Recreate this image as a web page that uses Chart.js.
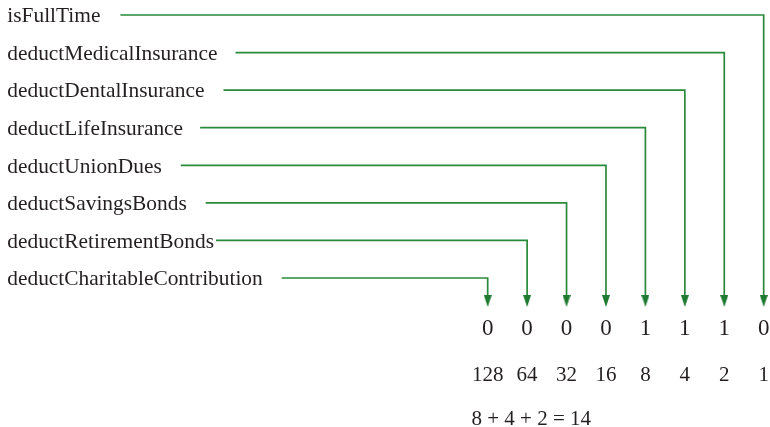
<!DOCTYPE html>
<html>
<head>
<meta charset="utf-8">
<script src="https://cdn.jsdelivr.net/npm/chart.js@4/dist/chart.umd.min.js"></script>
<style>
  html, body { margin: 0; padding: 0; background: #ffffff; }
  #wrap { width: 770px; height: 427px; }
</style>
</head>
<body>
<div id="wrap"><canvas id="c" width="770" height="427"></canvas></div>
<script>
// ---- DATA ----
const flagNames = [
  "isFullTime",
  "deductMedicalInsurance",
  "deductDentalInsurance",
  "deductLifeInsurance",
  "deductUnionDues",
  "deductSavingsBonds",
  "deductRetirementBonds",
  "deductCharitableContribution"
];
const bitValues = [0, 0, 0, 0, 1, 1, 1, 0];          // left (128) to right (1)
const placeWeights = [128, 64, 32, 16, 8, 4, 2, 1];

// ---- LAYOUT (scale units: x = bit column, y = row) ----
const W = 770, H = 427;
const X_MIN = -12.369, X_MAX = 7.160;
const Y_MIN = -0.399, Y_MAX = 10.966;
const LABEL_X = -12.184;
const ARROW_ROW = 7.612;
const BIT_ROW = 8.517;
const WEIGHT_ROW = 9.734;
const EQ_ROW = 10.913;
const EQ_X = -0.41;
const labelGaps = [20, 18, 19, 17, 19, 19, 2, 19];
const LABEL_FONT = '21.4px "Liberation Serif", "Times New Roman", serif';
const BIT_FONT = '23px "Liberation Serif", "Times New Roman", serif';
const WEIGHT_FONT = '21px "Liberation Serif", "Times New Roman", serif';
const TEXT_COLOR = '#231f20';
const LINE_COLOR = '#2a8a3b';
const ARROW_COLOR = '#1d7a30';

// arrowhead image
const arrow = document.createElement('canvas');
arrow.width = 8; arrow.height = 12;
(function () {
  const a = arrow.getContext('2d');
  a.fillStyle = ARROW_COLOR;
  a.beginPath();
  a.moveTo(0, 0); a.lineTo(8, 0); a.lineTo(4, 12); a.closePath();
  a.fill();
})();

// measure label widths to find where each connector begins
const mctx = document.createElement('canvas').getContext('2d');
mctx.font = LABEL_FONT;
const pxPerUnitX = W / (X_MAX - X_MIN);
const datasets = flagNames.map((name, i) => {
  const col = flagNames.length - 1 - i;             // isFullTime -> rightmost bit
  const startX = LABEL_X + (mctx.measureText(name).width + labelGaps[i]) / pxPerUnitX;
  return {
    type: 'line',
    data: [
      { x: startX, y: i },
      { x: col, y: i },
      { x: col, y: ARROW_ROW }
    ],
    borderColor: LINE_COLOR,
    borderWidth: 1.7,
    fill: false,
    tension: 0,
    clip: false,
    pointStyle: arrow,
    pointRadius: c => (c.dataIndex === 2 ? 5 : 0),
    pointHoverRadius: c => (c.dataIndex === 2 ? 5 : 0)
  };
});

const textPlugin = {
  id: 'texts',
  afterDatasetsDraw(chart) {
    const { ctx, scales: { x, y } } = chart;
    ctx.save();
    ctx.fillStyle = TEXT_COLOR;
    ctx.textBaseline = 'alphabetic';
    // flag labels
    ctx.font = LABEL_FONT;
    ctx.textAlign = 'left';
    flagNames.forEach((n, i) => {
      ctx.fillText(n, x.getPixelForValue(LABEL_X), y.getPixelForValue(i) + 7.3);
    });
    // bits
    ctx.font = BIT_FONT;
    ctx.textAlign = 'center';
    bitValues.forEach((b, j) => {
      ctx.fillText(String(b), x.getPixelForValue(j), y.getPixelForValue(BIT_ROW));
    });
    // weights
    ctx.font = WEIGHT_FONT;
    placeWeights.forEach((w, j) => {
      ctx.fillText(String(w), x.getPixelForValue(j), y.getPixelForValue(WEIGHT_ROW));
    });
    // equation
    const terms = placeWeights.filter((w, j) => bitValues[j] === 1);
    const total = terms.reduce((s, v) => s + v, 0);
    ctx.textAlign = 'left';
    ctx.fillText(terms.join(' + ') + ' = ' + total, x.getPixelForValue(EQ_X), y.getPixelForValue(EQ_ROW));
    ctx.restore();
  }
};

new Chart(document.getElementById('c'), {
  type: 'line',
  data: { datasets },
  options: {
    responsive: false,
    animation: false,
    events: [],
    layout: { padding: 0, autoPadding: false },
    plugins: { legend: { display: false }, tooltip: { enabled: false } },
    scales: {
      x: { type: 'linear', min: X_MIN, max: X_MAX, display: false },
      y: { type: 'linear', min: Y_MIN, max: Y_MAX, reverse: true, display: false }
    }
  },
  plugins: [textPlugin]
});
</script>
</body>
</html>
